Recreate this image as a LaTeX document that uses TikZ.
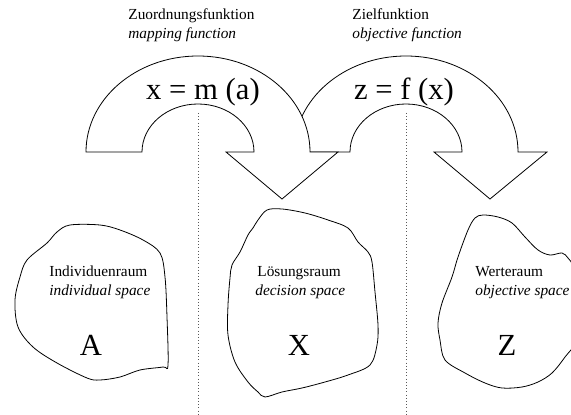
\documentclass[tikz,border=0pt]{standalone}
\usepackage{fontspec}
\setmainfont{Liberation Serif}
\usepackage{tikz}
\usetikzlibrary{positioning, calc}

\begin{document}
\begin{tikzpicture}[
        x=0.75pt, y=0.75pt,
        line width=0.6pt,
        curvedarrow/.style={
            draw,
            fill=white,
            line join=miter
        },
        blob/.style={
            draw,
            smooth cycle,
            tension=0.55
        },
        guide/.style={
            dotted,
            line width=0.4pt,
            gray!70!black
        },
        smalltext/.style={
            font=\fontsize{11.5}{14}\selectfont,
            inner sep=0pt,
            anchor=base west
        },
        bigtext/.style={
            font=\fontsize{23}{27}\selectfont,
            inner sep=0pt,
            anchor=base
        }
    ]

        \useasboundingbox (0, 0) rectangle (571, 414);

        % Dotted separators
        \draw[guide] (198, 301) -- (198, 0);
        \draw[guide] (406, 301) -- (406, 0);

        % Objective function arrow
        \draw[curvedarrow] (294, 262) arc[start angle=180, end angle=0, x radius=112, y radius=96]
            -- (547, 262) -- (490, 215) -- (434, 262) -- (462, 262)
            arc[start angle=0, end angle=180, x radius=56, y radius=48] -- cycle;

        % Mapping function arrow
        \draw[curvedarrow] (86, 262) arc[start angle=180, end angle=0, x radius=112, y radius=96]
            -- (338, 262) -- (282, 215) -- (226, 262) -- (254, 262)
            arc[start angle=0, end angle=180, x radius=56, y radius=48] -- cycle;

        % Function labels
        \node[smalltext] (mapde) at (128, 394) {Zuordnungsfunktion};
        \node[smalltext] (mapen) at (128, 375) {\itshape mapping function};
        \node[bigtext] (mapeq) at (203, 314) {x = m (a)};

        \node[smalltext] (objde) at (352, 394) {Zielfunktion};
        \node[smalltext] (objen) at (352, 375) {\itshape objective function};
        \node[bigtext] (objeq) at (404, 314) {z = f (x)};

        % Individual space
        \draw[blob] plot coordinates {(70,189) (100,189) (120,184) (143,174) (160,161)
            (165,137) (167,97) (168,49) (163,47) (140,44) (120,37) (100,34) (87,36)
            (57,51) (33,67) (18,87) (15,114) (20,137) (27,154) (47,171) (57,182)};
        \node[smalltext] (indde) at (49, 137) {Individuenraum};
        \node[smalltext] (inden) at (49, 118) {\itshape individual space};
        \node[bigtext] (setA) at (91, 58) {A};

        % Decision space
        \draw[blob] plot coordinates {(267,204) (282,205) (305,201) (328,194) (348,186)
            (358,172) (368,162) (372,152) (375,122) (378,89) (377,69) (370,49) (348,39)
            (325,32) (302,26) (282,22) (265,17) (258,22) (248,32) (235,52) (228,79)
            (228,109) (230,136) (232,149) (240,162) (248,179) (253,186) (258,194)};
        \node[smalltext] (decde) at (257, 137) {Lösungsraum};
        \node[smalltext] (decen) at (255, 118) {\itshape decision space};
        \node[bigtext] (setX) at (299, 58) {X};

        % Objective space
        \draw[blob] plot coordinates {(475,196) (483,199) (498,197) (512,191) (525,177)
            (538,164) (550,159) (562,161) (568,156) (573,147) (576,120) (576,75)
            (565,57) (552,41) (538,32) (522,27) (502,26) (485,31) (465,41) (445,54)
            (440,74) (438,91) (442,111) (452,137) (458,157) (468,184)};
        \node[smalltext] (objspde) at (475, 137) {Werteraum};
        \node[smalltext] (objspen) at (475, 118) {\itshape objective space};
        \node[bigtext] (setZ) at (507, 58) {Z};

    \end{tikzpicture}
\end{document}
